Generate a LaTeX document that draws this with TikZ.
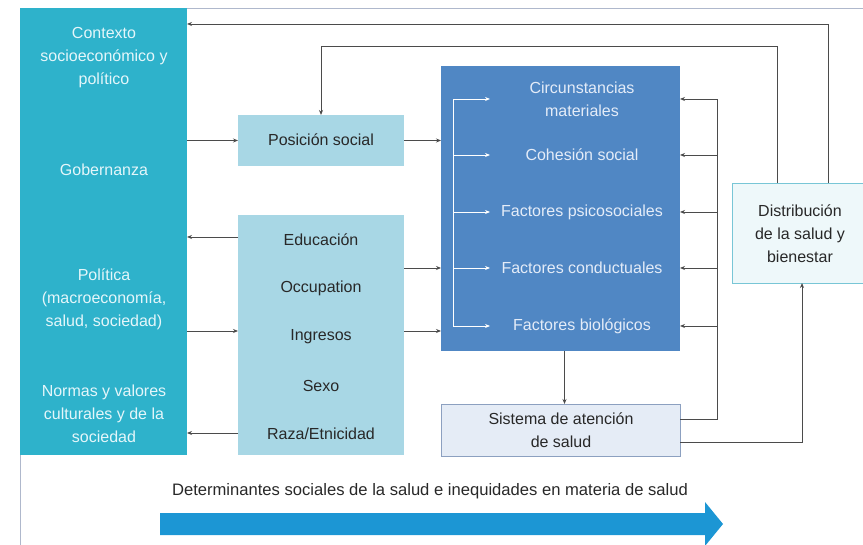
\documentclass[tikz,border=0pt]{standalone}
\usepackage{fontspec}
\setmainfont{Liberation Sans}
\usetikzlibrary{arrows.meta,calc}
\definecolor{tealbg}{RGB}{46,178,203}
\definecolor{lightbg}{RGB}{168,215,229}
\definecolor{darkbg}{RGB}{80,135,196}
\definecolor{sisbg}{RGB}{229,236,246}
\definecolor{sisbd}{RGB}{140,160,192}
\definecolor{distbg}{RGB}{238,248,250}
\definecolor{distbd}{RGB}{120,198,214}
\definecolor{bigarrow}{RGB}{28,150,212}
\definecolor{framec}{RGB}{175,184,204}
\definecolor{linec}{RGB}{75,75,75}
\definecolor{txtdark}{RGB}{40,40,40}
\definecolor{txtteal}{RGB}{228,246,250}
\definecolor{txtblue}{RGB}{228,236,248}
\tikzset{
  boxbase/.style={rectangle, inner sep=0pt, outer sep=0pt, anchor=north west},
  tealbox/.style={boxbase, fill=tealbg},
  lightbox/.style={boxbase, fill=lightbg},
  darkbox/.style={boxbase, fill=darkbg},
  sisbox/.style={boxbase, fill=sisbg, draw=sisbd, line width=0.8pt},
  distbox/.style={boxbase, fill=distbg, draw=distbd, line width=0.8pt},
  basetxt/.style={inner sep=0pt, align=center, font=\fontsize{16}{23}\selectfont},
  ttxt/.style={basetxt, text=txtteal},
  btxt/.style={basetxt, text=txtblue},
  dtxt/.style={basetxt, text=txtdark},
  lnk/.style={draw=linec, line width=0.9pt},
  arr/.style={lnk, -{Stealth[length=5pt,width=4pt]}},
  warr/.style={draw=white, line width=0.9pt, -{Stealth[length=5pt,width=4pt]}},
}
\begin{document}
\begin{tikzpicture}[x=1pt,y=-1pt]
\useasboundingbox (0,0) rectangle (863,545);
\clip (0,0) rectangle (863,545);
% frame
\draw[framec, line width=0.8pt] (20,545) -- (20,8) -- (863,8);
% boxes
\node[tealbox, minimum width=167pt, minimum height=447pt] (teal) at (20,8) {};
\node[lightbox, minimum width=166pt, minimum height=51pt] (pos) at (238,115) {};
\node[lightbox, minimum width=166pt, minimum height=240pt] (edu) at (238,215) {};
\node[darkbox, minimum width=239pt, minimum height=285pt] (blue) at (441,66) {};
\node[sisbox, minimum width=239pt, minimum height=52pt] (sis) at (441,404) {};
\node[distbox, minimum width=136pt, minimum height=100pt] (dist) at (732,183) {};
% teal texts
\node[ttxt] (ctx) at (104,58) {Contexto\\socioeconómico y\\político};
\node[ttxt] (gob) at (104,170) {Gobernanza};
\node[ttxt] (pol) at (104,299) {Política\\(macroeconomía,\\salud, sociedad)};
\node[ttxt] (nor) at (104,414) {Normas y valores\\culturales y de la\\sociedad};
% light texts
\node[dtxt] (post) at (321,140) {Posición social};
\node[dtxt] (e1) at (321,240) {Educación};
\node[dtxt] (e2) at (321,288) {Occupation};
\node[dtxt] (e3) at (321,337) {Ingresos};
\node[dtxt] (e4) at (321,386) {Sexo};
\node[dtxt] (e5) at (321,434) {Raza/Etnicidad};
% blue texts
\node[btxt] (b1) at (582,99) {Circunstancias\\materiales};
\node[btxt] (b2) at (582,155) {Cohesión social};
\node[btxt] (b3) at (582,212) {Factores psicosociales};
\node[btxt] (b4) at (582,268) {Factores conductuales};
\node[btxt] (b5) at (582,326) {Factores biológicos};
% other texts
\node[dtxt] (sist) at (561,430) {Sistema de atención\\de salud};
\node[dtxt] (distt) at (800,234) {Distribución\\de la salud y\\bienestar};
\node[dtxt, font=\fontsize{16.6}{20}\selectfont] (det) at (430,491) {Determinantes sociales de la salud e inequidades en materia de salud};
% big arrow
\fill[bigarrow] (160,513) -- (705,513) -- (705,502) -- (723,524) -- (705,546) -- (705,535) -- (160,535) -- cycle;
% feedback loops
\draw[arr] ([xshift=28pt]dist.north) |- (teal.east |- 0,24);
\draw[arr] ([xshift=-23pt]dist.north) |- (pos.north |- 0,46) -- (pos.north);
% left connectors
\draw[arr] (teal.east |- pos.west) -- (pos.west);
\draw[arr] (pos.east) -- (blue.west |- pos.east);
\coordinate (ya) at (0,237);
\coordinate (yb) at (0,331);
\coordinate (yc) at (0,433);
\coordinate (yd) at (0,268);
\draw[arr] (edu.west |- ya) -- (teal.east |- ya);
\draw[arr] (teal.east |- yb) -- (edu.west |- yb);
\draw[arr] (edu.west |- yc) -- (teal.east |- yc);
\draw[arr] (edu.east |- yd) -- (blue.west |- yd);
\draw[arr] (edu.east |- yb) -- (blue.west |- yb);
% inside blue box
\coordinate (wx) at (453,0);
\coordinate (wt) at (490,0);
\draw[white, line width=0.9pt] (wx |- b1) -- (wx |- b5);
\foreach \b in {b1,b2,b3,b4,b5}{
  \draw[warr] (wx |- \b) -- (wt |- \b);
}
% right side
\coordinate (rx) at (717,0);
\coordinate (ys) at (0,419);
\draw[lnk] (sis.east |- ys) -- (rx |- ys) -- (rx |- b1);
\foreach \b in {b1,b2,b3,b4,b5}{
  \draw[arr] (rx |- \b) -- (blue.east |- \b);
}
\coordinate (ye) at (0,442);
\draw[arr] (sis.east |- ye) -| ([xshift=2pt]dist.south);
\draw[arr] ([xshift=4pt]blue.south) -- ([xshift=4pt]sis.north);
\end{tikzpicture}
\end{document}
